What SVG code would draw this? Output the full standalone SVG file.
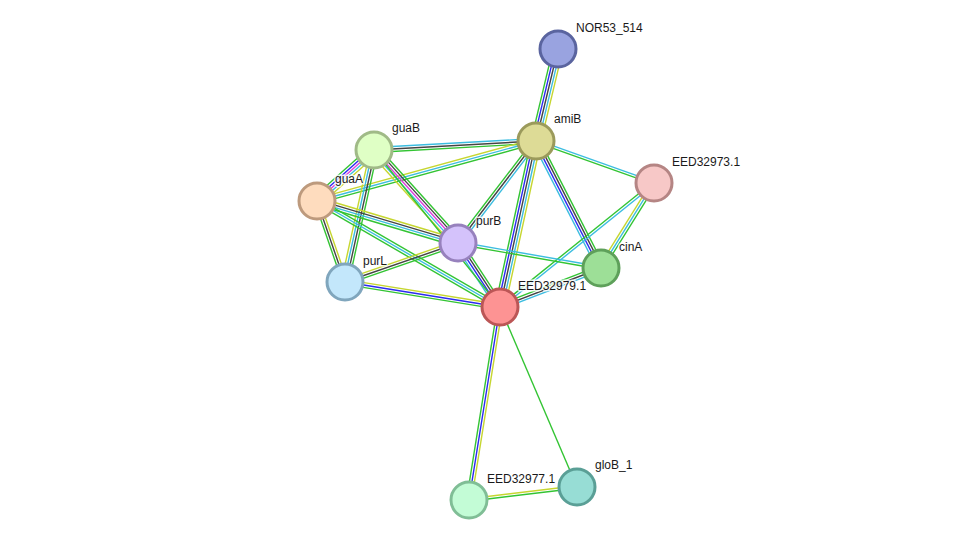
<svg xmlns="http://www.w3.org/2000/svg" width="975" height="546" viewBox="0 0 975 546">
<style>
line{stroke-width:1.4;fill:none;vector-effect:non-scaling-stroke}
.g{stroke:#33c433}.b{stroke:#2b2bf0}.k{stroke:#444444}.c{stroke:#3cbde0}.y{stroke:#c6d630}.m{stroke:#dd40dd}
.node circle{stroke-width:3}
text{font-family:"Liberation Sans",Arial,sans-serif;font-size:12px;fill:#1a1a1a;stroke:#ffffff;stroke-width:3;stroke-opacity:0.8;paint-order:stroke;stroke-linejoin:round}
</style>
<rect width="975" height="546" fill="#ffffff"/>
<g id="edges">
<g transform="translate(536,141) rotate(-76.55) scale(1,1.12)"><line class="g" x1="0" y1="-4.4" x2="94.6" y2="-4.4"/><line class="b" x1="0" y1="-2.2" x2="94.6" y2="-2.2"/><line class="k" x1="0" y1="0" x2="94.6" y2="0"/><line class="c" x1="0" y1="2.2" x2="94.6" y2="2.2"/><line class="y" x1="0" y1="4.4" x2="94.6" y2="4.4"/></g>
<g transform="translate(374,150) rotate(-3.18) scale(1,1.12)"><line class="c" x1="0" y1="-2.2" x2="162.2" y2="-2.2"/><line class="k" x1="0" y1="0" x2="162.2" y2="0"/><line class="g" x1="0" y1="2.2" x2="162.2" y2="2.2"/></g>
<g transform="translate(317,201) rotate(-15.32) scale(1,1.12)"><line class="y" x1="0" y1="-2.2" x2="227.1" y2="-2.2"/><line class="c" x1="0" y1="0" x2="227.1" y2="0"/><line class="g" x1="0" y1="2.2" x2="227.1" y2="2.2"/></g>
<g transform="translate(536,141) rotate(19.59) scale(1,1.12)"><line class="c" x1="0" y1="-1.1" x2="125.2" y2="-1.1"/><line class="g" x1="0" y1="1.1" x2="125.2" y2="1.1"/></g>
<g transform="translate(458,243) rotate(-52.6) scale(1,1.12)"><line class="g" x1="0" y1="-2.2" x2="128.4" y2="-2.2"/><line class="k" x1="0" y1="0" x2="128.4" y2="0"/><line class="c" x1="0" y1="2.2" x2="128.4" y2="2.2"/></g>
<g transform="translate(500,307) rotate(-77.76) scale(1,1.12)"><line class="g" x1="0" y1="-4.4" x2="169.9" y2="-4.4"/><line class="b" x1="0" y1="-2.2" x2="169.9" y2="-2.2"/><line class="k" x1="0" y1="0" x2="169.9" y2="0"/><line class="c" x1="0" y1="2.2" x2="169.9" y2="2.2"/><line class="y" x1="0" y1="4.4" x2="169.9" y2="4.4"/></g>
<g transform="translate(536,141) rotate(62.9) scale(1,1.12)"><line class="g" x1="0" y1="-3.3" x2="142.7" y2="-3.3"/><line class="k" x1="0" y1="-1.1" x2="142.7" y2="-1.1"/><line class="b" x1="0" y1="1.1" x2="142.7" y2="1.1"/><line class="c" x1="0" y1="3.3" x2="142.7" y2="3.3"/></g>
<g transform="translate(601,268) rotate(-58.05) scale(1,1.12)"><line class="y" x1="0" y1="-2.2" x2="100.2" y2="-2.2"/><line class="c" x1="0" y1="0" x2="100.2" y2="0"/><line class="g" x1="0" y1="2.2" x2="100.2" y2="2.2"/></g>
<g transform="translate(500,307) rotate(-38.84) scale(1,1.12)"><line class="g" x1="0" y1="-1.1" x2="197.7" y2="-1.1"/><line class="c" x1="0" y1="1.1" x2="197.7" y2="1.1"/></g>
<g transform="translate(458,243) rotate(9.92) scale(1,1.12)"><line class="c" x1="0" y1="-1.1" x2="145.2" y2="-1.1"/><line class="g" x1="0" y1="1.1" x2="145.2" y2="1.1"/></g>
<g transform="translate(500,307) rotate(-21.11) scale(1,1.12)"><line class="g" x1="0" y1="-2.2" x2="108.3" y2="-2.2"/><line class="k" x1="0" y1="0" x2="108.3" y2="0"/><line class="c" x1="0" y1="2.2" x2="108.3" y2="2.2"/></g>
<g transform="translate(458,243) rotate(56.72) scale(1,1.12)"><line class="g" x1="0" y1="-3.3" x2="76.6" y2="-3.3"/><line class="k" x1="0" y1="-1.1" x2="76.6" y2="-1.1"/><line class="b" x1="0" y1="1.1" x2="76.6" y2="1.1"/><line class="c" x1="0" y1="3.3" x2="76.6" y2="3.3"/></g>
<g transform="translate(374,150) rotate(47.92) scale(1,1.12)"><line class="g" x1="0" y1="-4.4" x2="125.3" y2="-4.4"/><line class="k" x1="0" y1="-2.2" x2="125.3" y2="-2.2"/><line class="m" x1="0" y1="0" x2="125.3" y2="0"/><line class="c" x1="0" y1="2.2" x2="125.3" y2="2.2"/><line class="y" x1="0" y1="4.4" x2="125.3" y2="4.4"/></g>
<g transform="translate(374,150) rotate(51.25)"><line class="g" x1="0" y1="0" x2="201.3" y2="0"/></g>
<g transform="translate(317,201) rotate(-41.82) scale(1,1.12)"><line class="g" x1="0" y1="-4.4" x2="76.5" y2="-4.4"/><line class="b" x1="0" y1="-2.2" x2="76.5" y2="-2.2"/><line class="m" x1="0" y1="0" x2="76.5" y2="0"/><line class="c" x1="0" y1="2.2" x2="76.5" y2="2.2"/><line class="y" x1="0" y1="4.4" x2="76.5" y2="4.4"/></g>
<g transform="translate(374,150) rotate(102.39) scale(1,1.12)"><line class="g" x1="0" y1="-3.3" x2="135.2" y2="-3.3"/><line class="k" x1="0" y1="-1.1" x2="135.2" y2="-1.1"/><line class="c" x1="0" y1="1.1" x2="135.2" y2="1.1"/><line class="y" x1="0" y1="3.3" x2="135.2" y2="3.3"/></g>
<g transform="translate(317,201) rotate(70.93) scale(1,1.12)"><line class="y" x1="0" y1="-2.2" x2="85.7" y2="-2.2"/><line class="k" x1="0" y1="0" x2="85.7" y2="0"/><line class="g" x1="0" y1="2.2" x2="85.7" y2="2.2"/></g>
<g transform="translate(317,201) rotate(16.59) scale(1,1.12)"><line class="y" x1="0" y1="-3.3" x2="147.1" y2="-3.3"/><line class="k" x1="0" y1="-1.1" x2="147.1" y2="-1.1"/><line class="c" x1="0" y1="1.1" x2="147.1" y2="1.1"/><line class="g" x1="0" y1="3.3" x2="147.1" y2="3.3"/></g>
<g transform="translate(317,201) rotate(30.08) scale(1,1.12)"><line class="g" x1="0" y1="-2.2" x2="211.5" y2="-2.2"/><line class="c" x1="0" y1="0" x2="211.5" y2="0"/><line class="g" x1="0" y1="2.2" x2="211.5" y2="2.2"/></g>
<g transform="translate(345,282) rotate(-19.04) scale(1,1.12)"><line class="y" x1="0" y1="-2.2" x2="119.5" y2="-2.2"/><line class="k" x1="0" y1="0" x2="119.5" y2="0"/><line class="g" x1="0" y1="2.2" x2="119.5" y2="2.2"/></g>
<g transform="translate(345,282) rotate(9.16) scale(1,1.12)"><line class="y" x1="0" y1="-2.2" x2="157" y2="-2.2"/><line class="b" x1="0" y1="0" x2="157" y2="0"/><line class="g" x1="0" y1="2.2" x2="157" y2="2.2"/></g>
<g transform="translate(500,307) rotate(99.12) scale(1,1.12)"><line class="y" x1="0" y1="-2.2" x2="195.5" y2="-2.2"/><line class="b" x1="0" y1="0" x2="195.5" y2="0"/><line class="g" x1="0" y1="2.2" x2="195.5" y2="2.2"/></g>
<g transform="translate(500,307) rotate(66.84)"><line class="g" x1="0" y1="0" x2="195.8" y2="0"/></g>
<g transform="translate(469,500) rotate(-6.86) scale(1,1.12)"><line class="y" x1="0" y1="-1.1" x2="108.8" y2="-1.1"/><line class="g" x1="0" y1="1.1" x2="108.8" y2="1.1"/></g>
</g>
<g id="NOR53_514" class="node"><circle cx="558" cy="49" r="18" fill="#99a3e0" stroke="#5a649f"/><text x="576" y="32">NOR53_514</text></g>
<g id="amiB" class="node"><circle cx="536" cy="141" r="18" fill="#dddb96" stroke="#9b9a5b"/><text x="554" y="123">amiB</text></g>
<g id="guaB" class="node"><circle cx="374" cy="150" r="18" fill="#dfffc5" stroke="#a0ba87"/><text x="392" y="132">guaB</text></g>
<g id="guaA" class="node"><circle cx="317" cy="201" r="18" fill="#fedcbe" stroke="#bd9a7d"/><text x="335" y="183">guaA</text></g>
<g id="purB" class="node"><circle cx="458" cy="243" r="18" fill="#d4c2fb" stroke="#9781bd"/><text x="476" y="225">purB</text></g>
<g id="purL" class="node"><circle cx="345" cy="282" r="18" fill="#c3e7fb" stroke="#80a6bd"/><text x="363" y="265">purL</text></g>
<g id="cinA" class="node"><circle cx="601" cy="268" r="18" fill="#9ddf97" stroke="#5ea05a"/><text x="619" y="251">cinA</text></g>
<g id="EED32973.1" class="node"><circle cx="654" cy="183" r="18" fill="#f7c8c7" stroke="#b58584"/><text x="672" y="166">EED32973.1</text></g>
<g id="EED32979.1" class="node"><circle cx="500" cy="307" r="18" fill="#fd9393" stroke="#bc5656"/><text x="518" y="290">EED32979.1</text></g>
<g id="EED32977.1" class="node"><circle cx="469" cy="500" r="18" fill="#c3fcd6" stroke="#80be96"/><text x="487" y="483">EED32977.1</text></g>
<g id="gloB_1" class="node"><circle cx="577" cy="487" r="18" fill="#97ddd5" stroke="#5a9f96"/><text x="595" y="469">gloB_1</text></g>
</svg>
